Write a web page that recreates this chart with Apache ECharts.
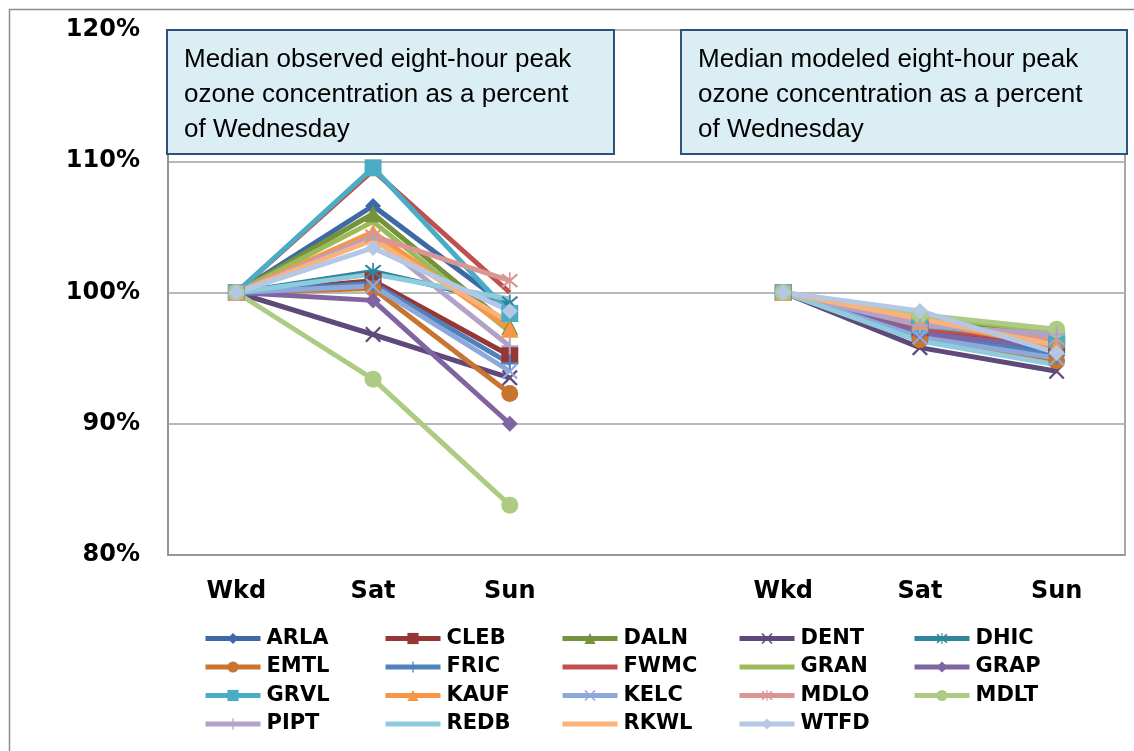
<!DOCTYPE html>
<html>
<head>
<meta charset="utf-8">
<script src="https://cdn.jsdelivr.net/npm/echarts@6/dist/echarts.min.js"></script>
<style>
html,body{margin:0;padding:0;background:#fff;}
#chart{width:1134px;height:751px;}
</style>
</head>
<body>
<div id="chart"></div>
<script>
// ---- data ----
const categories = ['Wkd', 'Sat', 'Sun', '', 'Wkd', 'Sat', 'Sun'];
const stations = ['ARLA','CLEB','DALN','DENT','DHIC','EMTL','FRIC','FWMC','GRAN','GRAP','GRVL','KAUF','KELC','MDLO','MDLT','PIPT','REDB','RKWL','WTFD'];
// observed (% of Wednesday): Wkd, Sat, Sun
const obsWkd = [100,100,100,100,100,100,100,100,100,100,100,100,100,100,100,100,100,100,100];
const obsSat = [106.6,100.9,106.0,96.8,101.6,100.3,100.7,109.3,105.4,99.4,109.5,104.6,100.5,104.3,93.4,104.2,101.4,104.0,103.4];
const obsSun = [98.8,95.2,97.4,93.5,99.2,92.3,94.6,100.0,97.0,90.0,98.4,97.2,94.0,100.9,83.8,95.9,99.5,97.7,98.6];
// modeled (% of Wednesday): Wkd, Sat, Sun
const modWkd = [100,100,100,100,100,100,100,100,100,100,100,100,100,100,100,100,100,100,100];
const modSat = [97.0,97.2,98.0,95.8,96.8,96.4,97.0,97.3,98.2,96.9,97.5,97.8,96.6,97.6,98.3,97.5,96.3,98.0,98.6];
const modSun = [95.5,96.0,97.0,94.0,95.8,94.8,95.2,96.2,97.0,95.8,96.4,95.9,95.0,96.5,97.2,96.8,94.5,96.0,95.4];
const yTicks = [80, 90, 100, 110, 120];
const panelTitles = [
  'Median observed eight-hour peak\nozone concentration as a percent\nof Wednesday',
  'Median modeled eight-hour peak\nozone concentration as a percent\nof Wednesday'
];

// ---- styles ----
const colors = ['#3D69A6','#953735','#76923C','#5F497A','#31859C','#C8752F','#4F81BD','#C0504D','#9BBB59','#8064A2','#4BACC6','#F79646','#8DA9DB','#D99694','#AECB84','#B3A2C7','#8ECBDC','#F9B27A','#B4C7E4'];
const X = 'path://M1,0 L5,4 L9,0 L10,1 L6,5 L10,9 L9,10 L5,6 L1,10 L0,9 L4,5 L0,1 Z';
const AST = 'path://M1,0 L5,4 L9,0 L10,1 L6,5 L10,9 L9,10 L5,6 L1,10 L0,9 L4,5 L0,1 Z M4.5,-1 L5.5,-1 L5.5,11 L4.5,11 Z';
const PLUS = 'path://M4.4,0 L5.6,0 L5.6,4.4 L10,4.4 L10,5.6 L5.6,5.6 L5.6,10 L4.4,10 L4.4,5.6 L0,5.6 L0,4.4 L4.4,4.4 Z';
const symbols = ['diamond','rect','triangle',X,AST,'circle',PLUS,'none','none','diamond','rect','triangle',X,AST,'circle',PLUS,'none','none','diamond'];
const symSizes = [16,17,17,16,17,17,17,0,0,16,17,17,16,17,17,17,0,0,16];

const series = stations.map((name, i) => ({
  name: name,
  type: 'line',
  data: [obsWkd[i], obsSat[i], obsSun[i], null, modWkd[i], modSat[i], modSun[i]],
  connectNulls: false,
  symbol: symbols[i],
  symbolSize: symSizes[i],
  showSymbol: symbols[i] !== 'none',
  color: colors[i],
  itemStyle: { color: colors[i] },
  lineStyle: { width: 5, color: colors[i] },
  emphasis: { disabled: true },
  animation: false
}));

// legend: 5 columns x 4 rows, row-major order
const colLeft = [203, 383, 560, 737, 912];
const legends = colLeft.map((left, c) => ({
  orient: 'vertical',
  left: left,
  top: 628,
  padding: 0,
  itemWidth: 55,
  itemHeight: 14,
  itemGap: 7.5,
  selectedMode: false,
  lineStyle: { width: 5 },
  data: stations.map((s, i) => ({ s, i })).filter(o => o.i % 5 === c).map(o =>
    symbols[o.i] === 'none' ? { name: o.s, itemStyle: { opacity: 0 } } : { name: o.s }),
  textStyle: { fontFamily: 'DejaVu Sans', fontWeight: 'bold', fontSize: 21, color: '#000', lineHeight: 20, padding: [0,0,0,1] }
}));

const chart = echarts.init(document.getElementById('chart'), null, { renderer: 'canvas' });
chart.setOption({
  backgroundColor: '#fff',
  animation: false,
  grid: { left: 168, right: 9, top: 30, bottom: 196, show: true, borderColor: '#8C8C8C', borderWidth: 1.5 },
  xAxis: {
    type: 'category',
    data: categories,
    boundaryGap: true,
    axisLine: { lineStyle: { color: '#8C8C8C', width: 1.5 } },
    axisTick: { show: false },
    axisLabel: { interval: 0, margin: 25, fontFamily: 'DejaVu Sans', fontWeight: 'bold', fontSize: 24, color: '#000' }
  },
  yAxis: {
    type: 'value',
    min: yTicks[0],
    max: yTicks[yTicks.length - 1],
    interval: 10,
    axisLine: { show: true, lineStyle: { color: '#8C8C8C', width: 1.5 } },
    axisTick: { show: false },
    splitLine: { lineStyle: { color: '#B8B8B8', width: 2 } },
    axisLabel: { margin: 28, padding: [4, 0, 0, 0], fontFamily: 'DejaVu Sans', fontWeight: 'bold', fontSize: 24, color: '#000', formatter: '{value}%' }
  },
  legend: legends,
  series: series,
  graphic: [
    { type: 'rect', left: 7, top: 7, z: 0, silent: true,
      shape: { width: 1140, height: 760 }, style: { fill: 'none', stroke: '#8C8C8C', lineWidth: 1.5 } },
    { type: 'rect', left: 166, top: 29, z: 100, silent: true,
      shape: { width: 447, height: 124 }, style: { fill: '#DBEEF4', stroke: '#2F5180', lineWidth: 2 } },
    { type: 'text', left: 184, top: 42, z: 101, silent: true,
      style: { text: panelTitles[0], font: '26px "Liberation Sans"', fill: '#000', lineHeight: 35 } },
    { type: 'rect', left: 680, top: 29, z: 100, silent: true,
      shape: { width: 446, height: 124 }, style: { fill: '#DBEEF4', stroke: '#2F5180', lineWidth: 2 } },
    { type: 'text', left: 698, top: 42, z: 101, silent: true,
      style: { text: panelTitles[1], font: '26px "Liberation Sans"', fill: '#000', lineHeight: 35 } }
  ]
});
</script>
</body>
</html>
